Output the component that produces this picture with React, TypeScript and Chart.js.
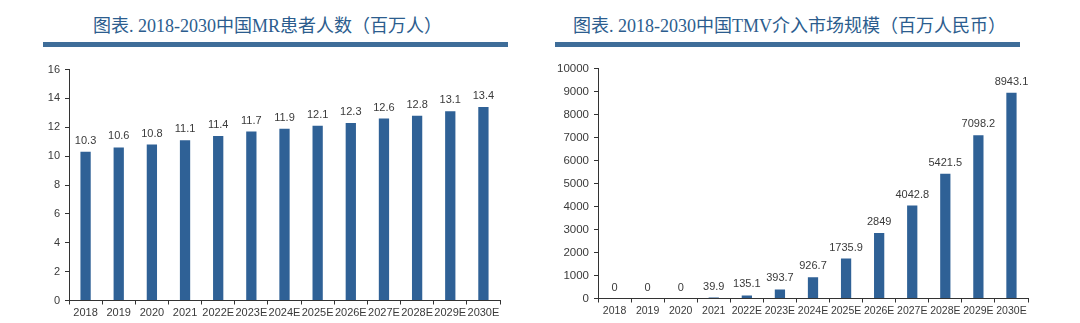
import React, { useEffect, useRef } from "react";
import { Chart, registerables } from "chart.js";

Chart.register(...registerables);

const years = ["2018", "2019", "2020", "2021", "2022E", "2023E", "2024E", "2025E", "2026E", "2027E", "2028E", "2029E", "2030E"];
const mrPatients = [10.3, 10.6, 10.8, 11.1, 11.4, 11.7, 11.9, 12.1, 12.3, 12.6, 12.8, 13.1, 13.4];
const tmvMarket = [0, 0, 0, 39.9, 135.1, 393.7, 926.7, 1735.9, 2849, 4042.8, 5421.5, 7098.2, 8943.1];

const leftTitle = "图表. 2018-2030中国MR患者人数（百万人）";
const rightTitle = "图表. 2018-2030中国TMV介入市场规模（百万人民币）";

const BAR_COLOR = "#2F6196";
const TEXT_COLOR = "#3a3a3a";
const AXIS_COLOR = "#333333";
const FONT = '"Liberation Sans", Arial, sans-serif';

const valueLabels = {
  id: "valueLabels",
  afterDatasetsDraw(chart: any, _args: any, opts: any) {
    const ctx = chart.ctx;
    const meta = chart.getDatasetMeta(0);
    const data = chart.data.datasets[0].data;
    ctx.save();
    ctx.font = `${opts.size || 11}px ${FONT}`;
    ctx.fillStyle = TEXT_COLOR;
    ctx.textAlign = "center";
    ctx.textBaseline = "alphabetic";
    meta.data.forEach((el: any, i: number) => {
      ctx.fillText(String(data[i]), el.x, el.y - (opts.offset ?? 8));
    });
    ctx.restore();
  },
};

type Cfg = {
  values: number[];
  max: number;
  step: number;
  yWidth: number;
  xHeight: number;
  padRight: number;
  padTop: number;
  yFont: number;
  xFont: number;
  xPad: number;
};

function BarChart({ cfg, style }: { cfg: Cfg; style: React.CSSProperties }) {
  const ref = useRef<HTMLCanvasElement | null>(null);
  useEffect(() => {
    if (!ref.current) return;
    const chart = new Chart(ref.current, {
      type: "bar",
      data: {
        labels: years,
        datasets: [
          {
            data: cfg.values,
            backgroundColor: BAR_COLOR,
            borderWidth: 0,
            barPercentage: 0.31,
            categoryPercentage: 1,
          },
        ],
      },
      plugins: [valueLabels],
      options: {
        animation: false,
        responsive: false,
        maintainAspectRatio: false,
        layout: { padding: { left: 0, right: cfg.padRight, top: cfg.padTop, bottom: 0 } },
        plugins: {
          legend: { display: false },
          tooltip: { enabled: false },
          valueLabels: { size: 11, offset: 8 },
        } as any,
        scales: {
          x: {
            grid: {
              display: true,
              drawOnChartArea: false,
              drawTicks: true,
              tickLength: 4,
              tickColor: AXIS_COLOR,
              offset: true,
            },
            border: { display: true, color: AXIS_COLOR, width: 1 },
            ticks: {
              color: TEXT_COLOR,
              font: { family: FONT, size: cfg.xFont },
              maxRotation: 0,
              minRotation: 0,
              autoSkip: false,
              padding: cfg.xPad,
            },
            afterFit: (s: any) => {
              s.height = cfg.xHeight;
            },
          },
          y: {
            min: 0,
            max: cfg.max,
            grid: {
              display: true,
              drawOnChartArea: false,
              drawTicks: true,
              tickLength: 4,
              tickColor: AXIS_COLOR,
            },
            border: { display: true, color: AXIS_COLOR, width: 1 },
            ticks: {
              stepSize: cfg.step,
              color: TEXT_COLOR,
              font: { family: FONT, size: cfg.yFont },
              padding: 5,
              callback: (v: any) => String(v),
            },
            afterFit: (s: any) => {
              s.width = cfg.yWidth;
            },
          },
        },
      } as any,
    });
    return () => chart.destroy();
  }, [cfg]);
  return <canvas ref={ref} width={540} height={273} style={{ position: "absolute", width: 540, height: 273, ...style }} />;
}

const leftCfg: Cfg = {
  values: mrPatients,
  max: 16,
  step: 2,
  yWidth: 69,
  xHeight: 22.5,
  padRight: 40,
  padTop: 19.5,
  yFont: 11,
  xFont: 11,
  xPad: 2,
};

const rightCfg: Cfg = {
  values: tmvMarket,
  max: 10000,
  step: 1000,
  yWidth: 58,
  xHeight: 24.5,
  padRight: 52,
  padTop: 18.5,
  yFont: 11.5,
  xFont: 10.5,
  xPad: 2.5,
};

const titleStyle: React.CSSProperties = {
  position: "absolute",
  top: 17,
  fontFamily: '"Liberation Serif", "Noto Sans CJK SC", serif',
  fontSize: 18,
  lineHeight: "18px",
  fontWeight: 400,
  color: "#2C5D8E",
  whiteSpace: "nowrap",
};

const lineStyle: React.CSSProperties = {
  position: "absolute",
  top: 42,
  height: 5,
  background: "#3E6D99",
};

export default function App() {
  return (
    <div style={{ position: "fixed", left: 0, top: 0, width: 1080, height: 323, background: "#fff", overflow: "hidden" }}>
      <div style={{ ...titleStyle, left: 93 }}>{leftTitle}</div>
      <div style={{ ...lineStyle, left: 43, width: 465 }} />
      <div style={{ ...titleStyle, left: 573 }}>{rightTitle}</div>
      <div style={{ ...lineStyle, left: 555, width: 465 }} />
      <BarChart cfg={leftCfg} style={{ left: 0, top: 50 }} />
      <BarChart cfg={rightCfg} style={{ left: 540, top: 50 }} />
    </div>
  );
}
